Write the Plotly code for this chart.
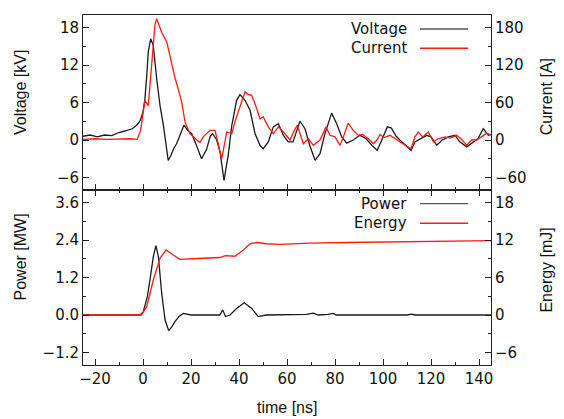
import plotly.graph_objects as go

# ---- data ----
t_voltage = [-25, -22, -19, -16, -13, -10, -8, -6, -4.5, -2.5, -1.2, 0, 0.8, 1.6, 2.2, 3.2, 4.3, 5.7, 7.1, 8.5,
             9.5, 10.5, 11.5, 13, 14, 15.5, 17.1, 18.5, 20.3, 22, 24.4, 26.5, 28, 29, 30.7, 32.1, 33.75, 35.5, 37, 39,
             40.4, 42.5, 44.6, 46.7, 48.75, 50.1, 52.2, 54.3, 56.4, 58.5, 60.5, 62.5, 65.4, 67.5, 69.6, 71.7, 73.75,
             75.8, 78.6, 80.7, 82.8, 84.9, 87.6, 90.4, 93, 95.3, 97.6, 99.5, 101.8, 103.5, 105.5, 107.1, 109.2, 111.7,
             113.3, 115.5, 118.2, 120, 122.4, 124.5, 127.2, 130, 132, 134.9, 137.6, 139.5, 141.8, 143.9, 145]
voltage = [0.6, 0.8, 0.5, 0.8, 0.7, 1.2, 1.4, 1.6, 1.8, 2.4, 3.1, 4.5, 6.6, 10.5, 14.1, 16.2, 15.1, 9.8, 5.5, 2.35,
           -0.8, -3.25, -2.6, -1.2, -0.6, 0.8, 2.4, 1.6, 1.0, -0.6, -3.0, -1.5, 0.6, 1.0, 0.0, -1.9, -6.45, -2.45, 2.35, 6.35,
           7.25, 6.35, 4.75, 1.0, -0.85, -1.4, -0.3, 2.1, 2.6, 0.75, -0.3, -0.3, 3.0, 1.8, -1.0, -3.25, -2.2,
           1.0, 4.3, 2.6, 0.5, -0.5, 0.0, 0.75, 0.2, -0.85, -1.65, 0.0, 2.1, 1.9, 0.6, -0.05, -0.85, -1.65,
           -0.3, 0.2, 0.75, 0.5, -0.85, -0.05, 0.5, 0.75, -0.3, -1.1, -0.3, 0.2, 1.8, 0.75, 0.9]

t_current = [-25, -20, -15, -10, -5, -2.4, -1, 0.1, 0.8, 2.2, 3.6, 5.0, 5.7, 7.8, 9.9, 11.5, 13.3, 14.8, 16.1, 17.5,
             19.6, 22.4, 23.75, 25.1, 26.5, 27.9, 30, 31.4, 32.8, 34.9, 37, 38.3, 40.4, 42.5, 43.8, 45.3, 47.4, 48.75,
             50.1, 52.2, 54.3, 56.4, 58.5, 61.25, 63, 64.3, 66.8, 68.9, 71, 73.75, 76.25, 77.9, 80, 82.1, 83.5, 85.5,
             87.6, 89.7, 91.5, 93.9, 96, 97.5, 98.75, 100.5, 102.9, 105, 107, 109.2, 111.7, 113.3, 114.7, 116.5,
             118.9, 121, 123, 125.8, 128, 130.7, 132.5, 134.9, 137, 139, 141, 143.2, 145]
current = [1, 2, 1, 2, 2, 1, 15, 45, 63, 55, 125, 185, 194, 172, 157, 130, 100, 80, 61, 29,
           10, 0, -4, 5, 10, 15.5, 15.5, -8.5, -30, 12.8, 10, 29, 53, 77, 73, 71.5, 50, 34,
           37, 21, 10, 21, 12.8, 0, 15, 23.5, -6, 2, -8.5, 0, 21, 7.5, 5, -8.5, 5, 27,
           15.5, 7.5, 9, 2, -6, 0, 9, 4, 7.5, 2, -2, -8.5, -14, 5, 12.8, 5,
           12.8, -3, 2, 5, 3, 7.5, 2, -8.5, 0, 0, 5, 11, 8]

t_power = [-25, -1.25, 0.1, 1.8, 2.9, 4.3, 5.4, 6.4, 7.8, 9.2, 10.7, 12, 13.3, 15, 16.8, 18.5, 20, 32, 33.2, 34.4,
           36.25, 39, 42.2, 45.3, 48, 51.4, 65, 68, 71, 73, 77, 79.3, 80.5, 110, 112, 113.5, 145]
power = [0, 0, 0.1, 0.59, 1.12, 1.87, 2.22, 1.87, 0.69, -0.16, -0.5, -0.38, -0.21, -0.05, 0.05, 0.02, 0, 0, 0.16, -0.05,
         0, 0.21, 0.39, 0.21, -0.05, 0, 0, 0.02, 0.06, 0, 0.02, 0.05, 0, 0, 0.03, 0, 0]

t_energy = [-25, -0.7, 1.5, 4.3, 7.1, 9.6, 12.6, 15.4, 21, 32, 34.4, 38.3, 41.8, 44.6, 47.4, 51.5, 57, 69.6, 85,
            100, 120, 145]
energy = [0, 0, 1.3, 5.6, 9.1, 10.4, 9.6, 8.9, 9.0, 9.2, 9.5, 9.4, 10.4, 11.4, 11.6, 11.4, 11.3, 11.5, 11.6,
          11.7, 11.8, 11.9]

voltage_ticks = [-6, 0, 6, 12, 18]
current_ticks = [-60, 0, 60, 120, 180]
power_ticks = [-1.2, 0.0, 1.2, 2.4, 3.6]
energy_ticks = [-6, 0, 6, 12, 18]
time_ticks = [-20, 0, 20, 40, 60, 80, 100, 120, 140]

BLACK = "#1a1a1a"
RED = "#ff1a1a"
FONT = "DejaVu Sans"
TITLE_FONT = dict(family="Liberation Sans", size=16, color="#111")

fig = go.Figure()
fig.add_trace(go.Scatter(x=t_voltage, y=voltage, mode="lines", line=dict(color=BLACK, width=1.3),
                         xaxis="x", yaxis="y", showlegend=False))
fig.add_trace(go.Scatter(x=t_current, y=current, mode="lines", line=dict(color=RED, width=1.3),
                         xaxis="x", yaxis="y2", showlegend=False))
fig.add_trace(go.Scatter(x=t_power, y=power, mode="lines", line=dict(color=BLACK, width=1.3),
                         xaxis="x2", yaxis="y3", showlegend=False))
fig.add_trace(go.Scatter(x=t_energy, y=energy, mode="lines", line=dict(color=RED, width=1.3),
                         xaxis="x2", yaxis="y4", showlegend=False))

axis_common = dict(showgrid=False, zeroline=False, showline=True, linecolor="#222", linewidth=1,
                   ticks="inside", ticklen=6, tickcolor="#222", automargin=False,
                   tickfont=dict(family=FONT, size=15, color="#111"))
minor_x = dict(dtick=10, ticks="inside", ticklen=3, tickcolor="#222")

fig.update_layout(
    width=564, height=419,
    margin=dict(l=83, r=73, t=15, b=54),
    paper_bgcolor="white", plot_bgcolor="white",
    font=dict(family=FONT, size=15, color="#111"),
    xaxis=dict(**axis_common, domain=[0, 1], range=[-25, 145], anchor="y",
               tickvals=time_ticks, showticklabels=False, mirror=True,
               minor=minor_x),
    xaxis2=dict(**axis_common, domain=[0, 1], range=[-25, 145], anchor="y3",
                tickvals=time_ticks, mirror="ticks", minor=minor_x),
    yaxis=dict(**axis_common, domain=[0.5, 1], range=[-8, 20], anchor="x",
               tickvals=voltage_ticks,
               minor=dict(dtick=3, tick0=0, ticks="inside", ticklen=3, tickcolor="#222")),
    yaxis2=dict(**axis_common, overlaying="y", side="right", range=[-80, 200], anchor="x",
                tickvals=current_ticks,
                minor=dict(dtick=30, tick0=0, ticks="inside", ticklen=3, tickcolor="#222")),
    yaxis3=dict(**axis_common, domain=[0, 0.5], range=[-1.6, 4.0], anchor="x2",
                tickvals=power_ticks, tickformat=".1f",
                minor=dict(dtick=0.6, tick0=0, ticks="inside", ticklen=3, tickcolor="#222")),
    yaxis4=dict(**axis_common, overlaying="y3", side="right", range=[-8, 20], anchor="x2",
                tickvals=energy_ticks,
                minor=dict(dtick=3, tick0=0, ticks="inside", ticklen=3, tickcolor="#222")),
)

# axis titles (placed like the reference)
axis_titles = [("Voltage [kV]", -0.152, 0.78, -90), ("Power [MW]", -0.152, 0.31, -90),
               ("Current [A]", 1.135, 0.765, -90), ("Energy [mJ]", 1.135, 0.27, -90),
               ("time [ns]", 0.5, -0.12, 0)]
for text, xp, yp, ang in axis_titles:
    fig.add_annotation(x=xp, y=yp, xref="paper", yref="paper", text=text, showarrow=False,
                       textangle=ang, xanchor="center", yanchor="middle", font=TITLE_FONT)

# gnuplot-style keys: text right-aligned, sample line to its right
keys = [("Voltage", BLACK, 0.96), ("Current", RED, 0.905), ("Power", BLACK, 0.461), ("Energy", RED, 0.405)]
for label, color, yp in keys:
    fig.add_annotation(x=0.797, y=yp, xref="paper", yref="paper", text=label, showarrow=False,
                       xanchor="right", yanchor="middle", borderpad=0,
                       font=dict(family=FONT, size=15, color="#111"))
    fig.add_shape(type="line", xref="paper", yref="paper", x0=0.826, x1=0.944, y0=yp, y1=yp,
                  line=dict(color="#555555" if color == BLACK else color, width=1.3))

fig.write_html("out.html")
